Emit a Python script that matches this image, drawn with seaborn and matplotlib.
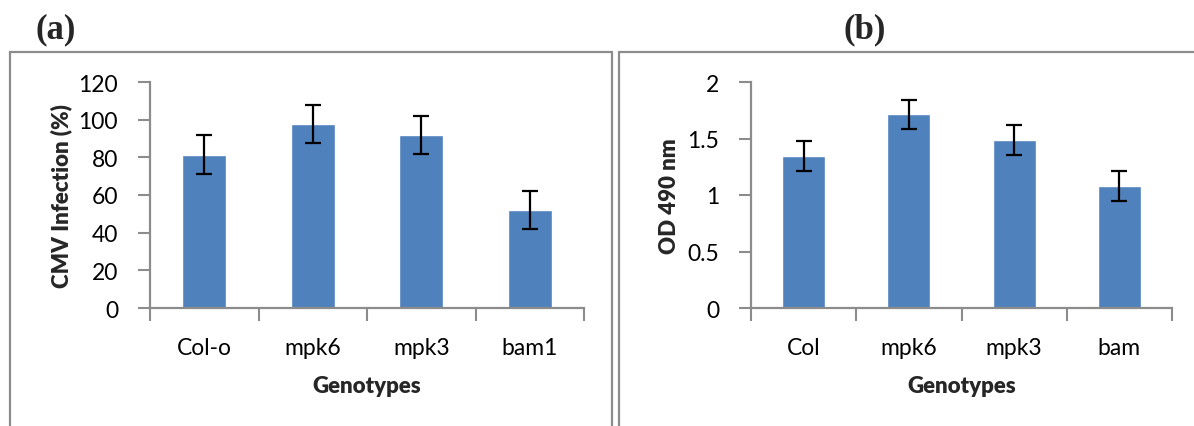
import matplotlib
matplotlib.use("Agg")
import matplotlib.pyplot as plt
import seaborn as sns
import numpy as np
from matplotlib.patches import Rectangle

# ---- data ----
cats_a = ["Col-o", "mpk6", "mpk3", "bam1"]
vals_a = [81.5, 97.7, 92.0, 52.0]
errs_a = [10.2, 10.3, 10.2, 10.2]

cats_b = ["Col", "mpk6", "mpk3", "bam"]
vals_b = [1.345, 1.715, 1.485, 1.08]
errs_b = [0.133, 0.13, 0.135, 0.13]

yticks_a = [0, 20, 40, 60, 80, 100, 120]
yticks_b = [0, 0.5, 1, 1.5, 2]
yticklabels_b = ["0", "0.5", "1", "1.5", "2"]

sns.set_theme(style="white")
plt.rcParams['font.family'] = ['Lato', 'DejaVu Sans']

BAR = "#4F81BD"
GRAY = "#8c8c8c"
W, H = 1194, 427
fig = plt.figure(figsize=(W / 100, H / 100), dpi=100)

# panel frames
fig.patches.append(Rectangle((10 / W, -0.1), (612 - 10) / W, 1.1 - 53 / H,
                             transform=fig.transFigure, fill=False,
                             edgecolor=GRAY, lw=1.6, zorder=0))
fig.patches.append(Rectangle((619 / W, -0.1), 0.5, 1.1 - 53 / H,
                             transform=fig.transFigure, fill=False,
                             edgecolor=GRAY, lw=1.6, zorder=0))

def fx(px):
    return px / W

def fy(py):
    return 1 - py / H

ax_a = fig.add_axes([fx(150), fy(309), (584 - 150) / W, (309 - 83) / H])
ax_b = fig.add_axes([fx(751), fy(309), (1172 - 751) / W, (309 - 83) / H])

def draw(ax, cats, vals, errs, yticks, ytl, ylim, ylabel, ylabx):
    sns.barplot(x=cats, y=vals, color=BAR, width=0.41, errorbar=None,
                saturation=1, ax=ax, zorder=2)
    ax.errorbar(np.arange(len(cats)), vals, yerr=errs, fmt="none",
                ecolor="black", elinewidth=1.6, capsize=5.5, capthick=1.6, zorder=3)
    ax.set_xlim(-0.5, len(cats) - 0.5)
    ax.set_ylim(*ylim)
    ax.set_yticks(yticks)
    ax.set_yticklabels(ytl)
    # boundary ticks (major) + centred labels (minor)
    ax.set_xticks(np.arange(-0.5, len(cats), 1.0))
    ax.set_xticklabels([""] * (len(cats) + 1))
    ax.set_xticks(np.arange(len(cats)), minor=True)
    ax.set_xticklabels(cats, minor=True)
    ax.tick_params(axis="x", which="major", direction="out", length=9,
                   width=1.5, color=GRAY, bottom=True)
    ax.tick_params(axis="x", which="minor", length=0, pad=21, labelsize=16.5,
                   labelcolor="black", bottom=True)
    ax.tick_params(axis="y", direction="out", length=9, width=1.5,
                   color=GRAY, pad=14, labelsize=16.5, labelcolor="black", left=True)
    for s in ["top", "right"]:
        ax.spines[s].set_visible(False)
    for s in ["left", "bottom"]:
        ax.spines[s].set_color(GRAY)
        ax.spines[s].set_linewidth(1.6)
    ax.set_xlabel("Genotypes", fontsize=16, fontweight="heavy", va="center")
    ax.xaxis.set_label_coords(0.5, (309 - 387) / 226)
    ax.set_ylabel(ylabel, fontsize=16, fontweight="heavy", va="center")
    ax.yaxis.set_label_coords(ylabx, 0.5)
    ax.set_facecolor("none")

draw(ax_a, cats_a, vals_a, errs_a, yticks_a, [str(t) for t in yticks_a],
     (0, 120), "CMV Infection (%)", (61 - 150) / 434)
draw(ax_b, cats_b, vals_b, errs_b, yticks_b, yticklabels_b,
     (0, 2), "OD 490 nm", (670 - 751) / 421)

fig.text(fx(56), fy(30), "(a)", family="Liberation Serif", fontweight="bold",
         fontsize=25, ha="center", va="center")
fig.text(fx(865), fy(30), "(b)", family="Liberation Serif", fontweight="bold",
         fontsize=25, ha="center", va="center")

fig.savefig("out.png", dpi=100)
